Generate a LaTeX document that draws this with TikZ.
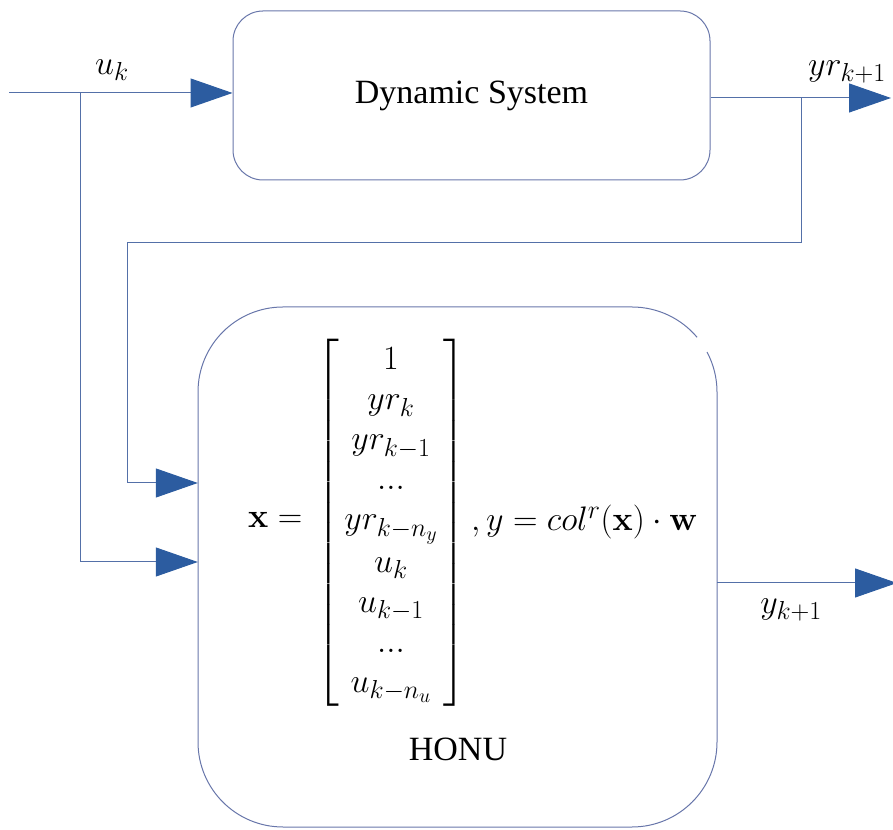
\RequirePackage{fix-cm}
\documentclass[tikz,border=0pt]{standalone}
\usepackage[no-math]{fontspec}
\DeclareFontFamily{OMX}{cmex}{}
\DeclareFontShape{OMX}{cmex}{m}{n}{<-> cmex10}{}
\DeclareMathSizes{34}{34}{26}{20}
\newfontfamily\tnr{Liberation Serif}
\usetikzlibrary{arrows.meta,calc}
\definecolor{arrowblue}{RGB}{44,92,160}
\definecolor{linecol}{RGB}{84,112,168}
\definecolor{boxcol}{RGB}{104,118,170}
\begin{document}
\begin{tikzpicture}[x=1pt,y=1pt,
  wire/.style={draw=linecol,line width=1pt},
  flow/.style={wire,-{Triangle[length=42pt,width=29pt,color=arrowblue]}},
  lbl/.style={inner sep=0pt,font=\fontsize{34}{40}\selectfont},
  txt/.style={inner sep=0pt,font=\tnr\fontsize{34}{40}\selectfont},
]
\useasboundingbox (0,0) rectangle (893,829);
% Dynamic System box
\node[draw=boxcol,line width=1pt,rounded corners=30pt,minimum width=477pt,minimum height=169pt,inner sep=0pt,txt] (ds) at (471.5,733.5) {Dynamic System};
% HONU box (border drawn separately, with the small gap of the original)
\node[minimum width=519pt,minimum height=520pt,inner sep=0pt] (honu) at (457.5,262) {};
\draw[boxcol,line width=1pt] ($(632,437)+(28:85)$) arc[start angle=28,end angle=0,radius=85pt]
  -- (717,87) arc[start angle=0,end angle=-90,radius=85pt]
  -- (283,2) arc[start angle=270,end angle=180,radius=85pt]
  -- (198,437) arc[start angle=180,end angle=90,radius=85pt]
  -- (632,522) arc[start angle=90,end angle=40,radius=85pt];
\node[txt] (honulbl) at (458,79.5) {HONU};
% equation
\node[lbl,anchor=west] (xeq) at (248,309) {$\mathbf{x} =$};
\node[lbl] (vec) at (391,306) {\renewcommand{\arraystretch}{1.0}$\left[\begin{array}{@{\,}c@{\,}}
1\\ yr_k\\ yr_{k-1}\\ ...\\ yr_{k-n_y}\\ u_k\\ u_{k-1}\\ ...\\ u_{k-n_u}
\end{array}\right]$};
\node[lbl,anchor=west] (yeq) at (471,307) {$, y = col^r(\mathbf{x})\cdot\mathbf{w}$};
% labels
\node[lbl] (uk) at (112,759) {$u_k$};
\node[lbl] (yrk) at (847,757) {$yr_{k+1}$};
\node[lbl] (yk) at (791,219) {$y_{k+1}$};
% connectors
\coordinate (in) at (9,736);
\draw[flow] (in) -- (in -| ds.west);
\coordinate (br) at (80,736);
\coordinate (brd) at (80,267);
\draw[flow] (br) -- (brd) -- (brd -| honu.west);
\coordinate (outtop) at (891,731);
\draw[flow] (outtop -| ds.east) -- (outtop);
\coordinate (fb1) at (801,731);
\coordinate (fb2) at (801,586);
\coordinate (fb3) at (127,586);
\coordinate (fb4) at (127,346);
\draw[flow] (fb1) -- (fb2) -- (fb3) -- (fb4) -- (fb4 -| honu.west);
\coordinate (outb) at (897,246);
\draw[flow] (outb -| honu.east) -- (outb);
\end{tikzpicture}
\end{document}
